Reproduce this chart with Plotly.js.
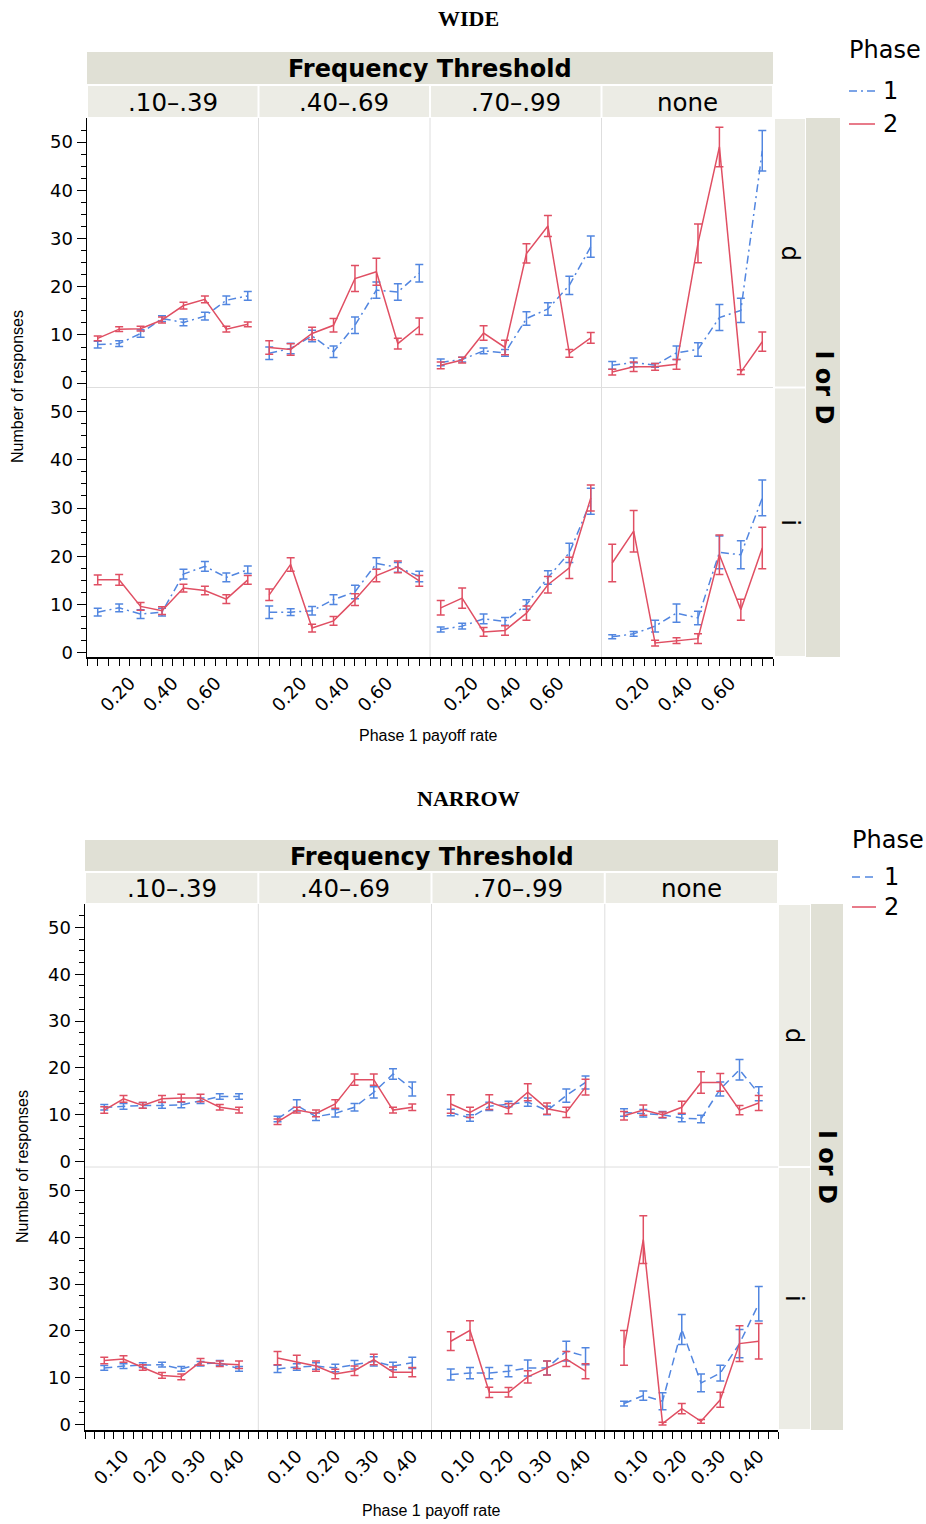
<!DOCTYPE html>
<html><head><meta charset="utf-8">
<script src="https://cdn.plot.ly/plotly-3.0.1.min.js"></script>
<style>
html,body{margin:0;padding:0;background:#fff;}
#wide,#narrow{position:absolute;left:0;width:926px;height:762px;}
#wide{top:0;} #narrow{top:762px;}
</style>
</head><body>
<div id="wide"></div><div id="narrow"></div>
<script>
// ---------- categories & ticks ----------
const thresholds = ['.10–.39', '.40–.69', '.70–.99', 'none'];
const rowLabels = ['d', 'i'];
const wideRates = [0.05, 0.15, 0.25, 0.35, 0.45, 0.55, 0.65, 0.75];
const narrowRates = [0.05, 0.10, 0.15, 0.20, 0.25, 0.30, 0.35, 0.40];
const wideTickVals = [0.2, 0.4, 0.6];
const wideTickText = ['0.20', '0.40', '0.60'];
const narrowTickVals = [0.1, 0.2, 0.3, 0.4];
const narrowTickText = ['0.10', '0.20', '0.30', '0.40'];
const yTickVals = [0, 10, 20, 30, 40, 50];
const yTickText = ['0', '10', '20', '30', '40', '50'];

// ---------- WIDE: row d ----------
const wideD_p1 = [
  [8.0, 8.2, 10.3, 13.4, 12.6, 13.9, 17.2, 18.1],
  [6.2, 7.2, 9.8, 6.5, 12.0, 19.3, 18.9, 22.8],
  [4.3, 4.9, 6.7, 6.3, 13.4, 15.4, 20.3, 28.3],
  [3.7, 4.3, 3.7, 6.3, 7.0, 13.6, 15.1, 48.2]];
const wideD_p1_err = [
  [0.7, 0.6, 0.8, 0.6, 0.7, 0.8, 0.9, 0.9],
  [1.3, 1.1, 1.2, 1.2, 1.7, 1.7, 1.7, 1.8],
  [0.7, 0.5, 0.6, 0.7, 1.4, 1.3, 1.9, 2.2],
  [0.8, 0.9, 0.4, 1.4, 1.4, 2.7, 2.5, 4.2]];
const wideD_p2 = [
  [9.3, 11.2, 11.3, 13.1, 16.1, 17.4, 11.2, 12.2],
  [7.4, 7.0, 10.3, 12.0, 21.7, 23.1, 8.2, 11.8],
  [3.7, 4.8, 10.4, 7.4, 26.9, 32.6, 6.2, 9.4],
  [2.3, 3.4, 3.4, 3.9, 29.0, 49.0, 2.3, 8.6]];
const wideD_p2_err = [
  [0.5, 0.5, 0.5, 0.6, 0.7, 0.7, 0.6, 0.5],
  [1.4, 1.2, 1.3, 1.4, 2.7, 2.8, 1.1, 1.7],
  [0.7, 0.6, 1.5, 1.5, 2.0, 2.2, 0.8, 1.1],
  [0.6, 1.0, 0.7, 1.0, 4.0, 4.1, 0.5, 2.0]];
// ---------- WIDE: row i ----------
const wideI_p1 = [
  [8.4, 9.3, 8.0, 8.4, 16.3, 17.9, 15.6, 17.2],
  [8.4, 8.4, 8.7, 11.0, 12.6, 18.5, 17.7, 15.8],
  [4.8, 5.5, 7.0, 6.5, 10.0, 15.6, 20.7, 31.4],
  [3.3, 3.9, 5.5, 8.2, 7.2, 20.8, 20.3, 32.1]];
const wideI_p1_err = [
  [0.8, 0.8, 0.9, 0.8, 1.0, 1.0, 0.9, 0.8],
  [1.3, 0.7, 0.9, 1.0, 1.4, 1.2, 1.0, 1.1],
  [0.5, 0.6, 1.0, 0.8, 1.0, 1.4, 2.0, 2.7],
  [0.4, 0.5, 1.2, 1.9, 1.4, 3.4, 2.9, 3.7]];
const wideI_p2 = [
  [15.1, 15.1, 9.6, 8.7, 13.4, 12.9, 11.1, 15.1],
  [12.0, 18.3, 5.1, 6.6, 11.0, 16.0, 17.8, 14.9],
  [9.3, 11.3, 4.3, 4.6, 8.2, 14.1, 17.6, 32.1],
  [18.6, 25.2, 2.0, 2.5, 2.9, 20.3, 8.9, 21.7]];
const wideI_p2_err = [
  [1.0, 1.1, 0.8, 0.8, 0.8, 0.9, 0.9, 0.9],
  [1.2, 1.4, 0.8, 0.9, 1.2, 1.3, 1.2, 1.1],
  [1.5, 2.1, 0.9, 1.0, 1.5, 1.7, 2.2, 2.7],
  [3.9, 4.3, 0.6, 0.6, 1.0, 4.1, 2.2, 4.3]];

// ---------- NARROW: row d ----------
const narrowD_p1 = [
  [11.6, 11.8, 12.0, 12.0, 12.1, 13.0, 13.9, 13.9],
  [9.1, 12.0, 9.6, 10.3, 11.6, 14.8, 18.7, 15.5],
  [10.5, 9.3, 11.8, 12.3, 12.7, 10.9, 14.1, 16.9],
  [10.5, 10.3, 10.0, 9.3, 9.1, 15.5, 19.6, 14.5]];
const narrowD_p1_err = [
  [0.6, 0.6, 0.6, 0.6, 0.6, 0.6, 0.6, 0.6],
  [0.6, 1.2, 0.8, 0.8, 0.8, 1.2, 1.1, 1.5],
  [0.7, 0.7, 0.9, 0.6, 0.9, 0.9, 1.4, 1.4],
  [0.8, 0.8, 0.7, 0.8, 0.8, 1.5, 2.2, 1.5]];
const narrowD_p2 = [
  [11.0, 13.4, 12.0, 13.4, 13.6, 13.6, 11.6, 11.0],
  [8.5, 11.0, 10.3, 12.3, 17.5, 17.5, 11.0, 11.6],
  [12.3, 10.5, 12.7, 11.3, 14.8, 11.3, 10.5, 15.9],
  [9.8, 11.0, 10.0, 11.6, 16.9, 16.9, 11.0, 12.5]];
const narrowD_p2_err = [
  [0.7, 0.7, 0.6, 0.7, 0.8, 0.8, 0.6, 0.6],
  [0.6, 0.6, 0.7, 0.9, 1.2, 1.2, 0.6, 0.7],
  [2.0, 1.1, 1.6, 1.1, 1.8, 1.2, 1.1, 1.7],
  [0.9, 1.1, 0.6, 1.3, 2.3, 1.9, 1.0, 1.6]];
// ---------- NARROW: row i ----------
const narrowI_p1 = [
  [12.1, 12.5, 12.7, 12.8, 11.9, 13.0, 13.2, 11.9],
  [11.9, 12.3, 12.5, 12.1, 12.8, 13.5, 12.5, 13.2],
  [10.7, 11.0, 11.0, 11.4, 12.1, 12.1, 15.7, 14.6],
  [4.5, 6.2, 5.0, 20.3, 8.9, 11.0, 17.3, 25.8]];
const narrowI_p1_err = [
  [0.5, 0.5, 0.5, 0.5, 0.5, 0.5, 0.5, 0.5],
  [0.8, 0.7, 0.7, 0.8, 0.9, 1.0, 0.8, 1.2],
  [1.2, 1.2, 1.2, 1.2, 1.7, 1.5, 2.1, 1.8],
  [0.5, 1.0, 1.8, 3.2, 1.9, 1.7, 3.0, 3.7]];
const narrowI_p2 = [
  [13.7, 14.0, 12.2, 10.5, 10.2, 13.4, 13.0, 12.8],
  [14.2, 13.4, 12.5, 10.8, 11.5, 13.9, 11.2, 11.2],
  [17.8, 20.1, 6.9, 6.9, 10.2, 12.1, 14.0, 11.4],
  [16.4, 39.5, 0.2, 3.4, 0.7, 5.3, 17.3, 17.8]];
const narrowI_p2_err = [
  [0.7, 0.7, 0.6, 0.6, 0.6, 0.7, 0.6, 0.8],
  [1.4, 1.4, 1.1, 1.0, 1.0, 1.1, 1.1, 1.0],
  [2.0, 2.1, 1.1, 1.0, 1.3, 1.5, 1.6, 1.6],
  [3.7, 5.1, 0.3, 1.1, 0.4, 1.6, 3.8, 3.8]];

// ---------- styling ----------
const BLUE = '#5286e0';
const RED = '#e04f63';
const STRIP_DARK = '#e0e0d5';
const STRIP_LIGHT = '#ecece5';
const GRID = '#dedede';
const SANS = 'DejaVu Sans';
const W = 926, H = 762;

function range(a, b, step) { const o = []; for (let v = a; v <= b + 1e-9; v += step) o.push(+v.toFixed(4)); return o; }

function build(divId, cfg) {
  const top = cfg.top;
  const X = px => px / W;
  const Y = py => 1 - (py - top) / H;
  const layout = {
    width: W, height: H, margin: {l: 0, r: 0, t: 0, b: 0}, autosize: false,
    paper_bgcolor: '#fff', plot_bgcolor: 'rgba(0,0,0,0)', showlegend: false,
    font: {family: SANS, color: '#000'},
    shapes: [], annotations: []
  };
  const traces = [];
  const rowsP1 = [cfg.d_p1, cfg.i_p1], rowsP1e = [cfg.d_p1e, cfg.i_p1e];
  const rowsP2 = [cfg.d_p2, cfg.i_p2], rowsP2e = [cfg.d_p2e, cfg.i_p2e];
  for (let r = 0; r < 2; r++) {
    for (let c = 0; c < 4; c++) {
      const i = r * 4 + c + 1;
      const sfx = i === 1 ? '' : String(i);
      const bottom = r === 1, left = c === 0;
      layout['xaxis' + sfx] = {
        domain: [X(cfg.cols[c]), X(cfg.cols[c + 1])], range: cfg.xRange, anchor: 'y' + sfx,
        showgrid: false, zeroline: false, fixedrange: true,
        showline: bottom, linecolor: '#000', linewidth: 1.5,
        ticks: bottom ? 'outside' : '', ticklen: 7, tickwidth: 1, tickcolor: '#000',
        tickmode: 'array', tickvals: cfg.tickVals, ticktext: cfg.tickText,
        showticklabels: bottom, tickangle: -45,
        tickfont: {family: SANS, size: 18, color: '#000'},
        minor: bottom ? {tickmode: 'array', tickvals: cfg.minorX, ticks: 'outside', ticklen: 7, tickwidth: 1, tickcolor: '#000'} : {ticks: ''}
      };
      layout['yaxis' + sfx] = {
        domain: [Y(cfg.rows[r + 1]), Y(cfg.rows[r])], range: cfg.yRange, anchor: 'x' + sfx,
        showgrid: false, zeroline: false, fixedrange: true,
        showline: left, linecolor: '#000', linewidth: 1.5,
        ticks: left ? 'outside' : '', ticklen: 9, tickwidth: 1, tickcolor: '#000',
        tickmode: 'array', tickvals: yTickVals, ticktext: yTickText, showticklabels: left,
        tickfont: {family: SANS, size: 18, color: '#000'},
        minor: left ? {tickmode: 'array', tickvals: range(0, 52.5, 2.5), ticks: 'outside', ticklen: 5, tickwidth: 1, tickcolor: '#000'} : {ticks: ''}
      };
      traces.push({
        type: 'scatter', mode: 'lines', x: cfg.rates, y: rowsP1[r][c], xaxis: 'x' + sfx, yaxis: 'y' + sfx,
        line: {color: BLUE, width: 1.5, dash: cfg.dash}, hoverinfo: 'skip',
        error_y: {type: 'data', array: rowsP1e[r][c], visible: true, color: BLUE, thickness: 1.5, width: 4}
      });
      traces.push({
        type: 'scatter', mode: 'lines', x: cfg.rates, y: rowsP2[r][c], xaxis: 'x' + sfx, yaxis: 'y' + sfx,
        line: {color: RED, width: 1.5}, hoverinfo: 'skip',
        error_y: {type: 'data', array: rowsP2e[r][c], visible: true, color: RED, thickness: 1.5, width: 4}
      });
    }
  }
  const rect = (x0, x1, y0, y1, fill) => layout.shapes.push({type: 'rect', xref: 'paper', yref: 'paper',
    x0: X(x0), x1: X(x1), y0: Y(y1), y1: Y(y0), fillcolor: fill, line: {width: 0}, layer: 'below'});
  const line = (x0, y0, x1, y1, color, width, dash) => layout.shapes.push({type: 'line', xref: 'paper', yref: 'paper',
    x0: X(x0), x1: X(x1), y0: Y(y0), y1: Y(y1), line: {color: color, width: width, dash: dash || 'solid'}, layer: 'below'});
  const text = (x, y, t, size, opts) => layout.annotations.push(Object.assign({xref: 'paper', yref: 'paper',
    x: X(x), y: Y(y), text: t, showarrow: false, xanchor: 'center', yanchor: 'middle',
    font: {family: SANS, size: size, color: '#000'}}, opts || {}));

  const cols = cfg.cols, rows = cfg.rows;
  // header strips
  rect(cols[0], cols[4], cfg.hdr[0], cfg.hdr[1], STRIP_DARK);
  for (let c = 0; c < 4; c++) {
    rect(cols[c] + 1, cols[c + 1] - 1, cfg.hdr[2], cfg.hdr[3], STRIP_LIGHT);
    text((cols[c] + cols[c + 1]) / 2, (cfg.hdr[2] + cfg.hdr[3]) / 2 + 1, thresholds[c], 24.5);
  }
  text((cols[0] + cols[4]) / 2, (cfg.hdr[0] + cfg.hdr[1]) / 2 + 1, '<b>Frequency Threshold</b>', 24);
  // right strips
  rect(cfg.rs[2], cfg.rs[3], rows[0], rows[2], STRIP_DARK);
  for (let r = 0; r < 2; r++) {
    rect(cfg.rs[0], cfg.rs[1], rows[r] + 1, rows[r + 1] - 1, STRIP_LIGHT);
    text((cfg.rs[0] + cfg.rs[1]) / 2, (rows[r] + rows[r + 1]) / 2, rowLabels[r], 24, {textangle: 90});
  }
  text((cfg.rs[2] + cfg.rs[3]) / 2, rows[1], '<b>I or D</b>', 24, {textangle: 90});
  // panel separators
  for (let c = 1; c < 4; c++) line(cols[c], rows[0], cols[c], rows[2], GRID, 1);
  line(cols[0], rows[1], cols[4], rows[1], GRID, 1);
  // titles
  text(cfg.titleX, cfg.titleY, '<b>' + cfg.title + '</b>', 22, {font: {family: 'Liberation Serif', size: 22, color: '#000'}});
  text(cfg.xtX, cfg.xtY, 'Phase 1 payoff rate', 16, {font: {family: 'Liberation Sans', size: 16, color: '#000'}});
  text(cfg.ytX, cfg.ytY, 'Number of responses', 16, {textangle: -90, font: {family: 'Liberation Sans', size: 16, color: '#000'}});
  // legend
  text(cfg.leg.x + 36, cfg.leg.y0, 'Phase', 24);
  line(cfg.leg.lx0, cfg.leg.y1, cfg.leg.lx1, cfg.leg.y1, BLUE, 1.5, cfg.dash);
  line(cfg.leg.lx0, cfg.leg.y2, cfg.leg.lx1, cfg.leg.y2, RED, 1.5);
  text(cfg.leg.tx, cfg.leg.y1, '1', 24, {xanchor: 'left'});
  text(cfg.leg.tx, cfg.leg.y2, '2', 24, {xanchor: 'left'});

  Plotly.newPlot(divId, traces, layout, {staticPlot: true, displayModeBar: false});
}

build('wide', {
  top: 0, title: 'WIDE', titleX: 468, titleY: 19,
  cols: [87, 258.5, 430, 601.5, 773], rows: [118, 387.5, 657],
  hdr: [52, 84, 86, 117], rs: [775, 805, 806, 840],
  xRange: [0, 0.8], rates: wideRates, tickVals: wideTickVals, tickText: wideTickText,
  minorX: range(0, 0.8, 0.05), yRange: [-0.9, 55], dash: '8px,4px,2px,4px',
  xtX: 428, xtY: 735, ytX: 17, ytY: 387,
  leg: {x: 849, y0: 50, y1: 91, y2: 124, lx0: 849, lx1: 875, tx: 881},
  d_p1: wideD_p1, d_p1e: wideD_p1_err, d_p2: wideD_p2, d_p2e: wideD_p2_err,
  i_p1: wideI_p1, i_p1e: wideI_p1_err, i_p2: wideI_p2, i_p2e: wideI_p2_err
});
build('narrow', {
  top: 762, title: 'NARROW', titleX: 468, titleY: 799,
  cols: [85, 258.3, 431.5, 604.8, 778], rows: [904, 1167, 1430],
  hdr: [840, 871, 873, 903], rs: [779, 810, 811, 843],
  xRange: [0, 0.45], rates: narrowRates, tickVals: narrowTickVals, tickText: narrowTickText,
  minorX: range(0, 0.45, 0.025), yRange: [-1.15, 55], dash: '8px,5px',
  xtX: 431, xtY: 1510, ytX: 22, ytY: 1167,
  leg: {x: 852, y0: 840, y1: 877, y2: 907, lx0: 852, lx1: 876, tx: 882},
  d_p1: narrowD_p1, d_p1e: narrowD_p1_err, d_p2: narrowD_p2, d_p2e: narrowD_p2_err,
  i_p1: narrowI_p1, i_p1e: narrowI_p1_err, i_p2: narrowI_p2, i_p2e: narrowI_p2_err
});
</script>
</body></html>
